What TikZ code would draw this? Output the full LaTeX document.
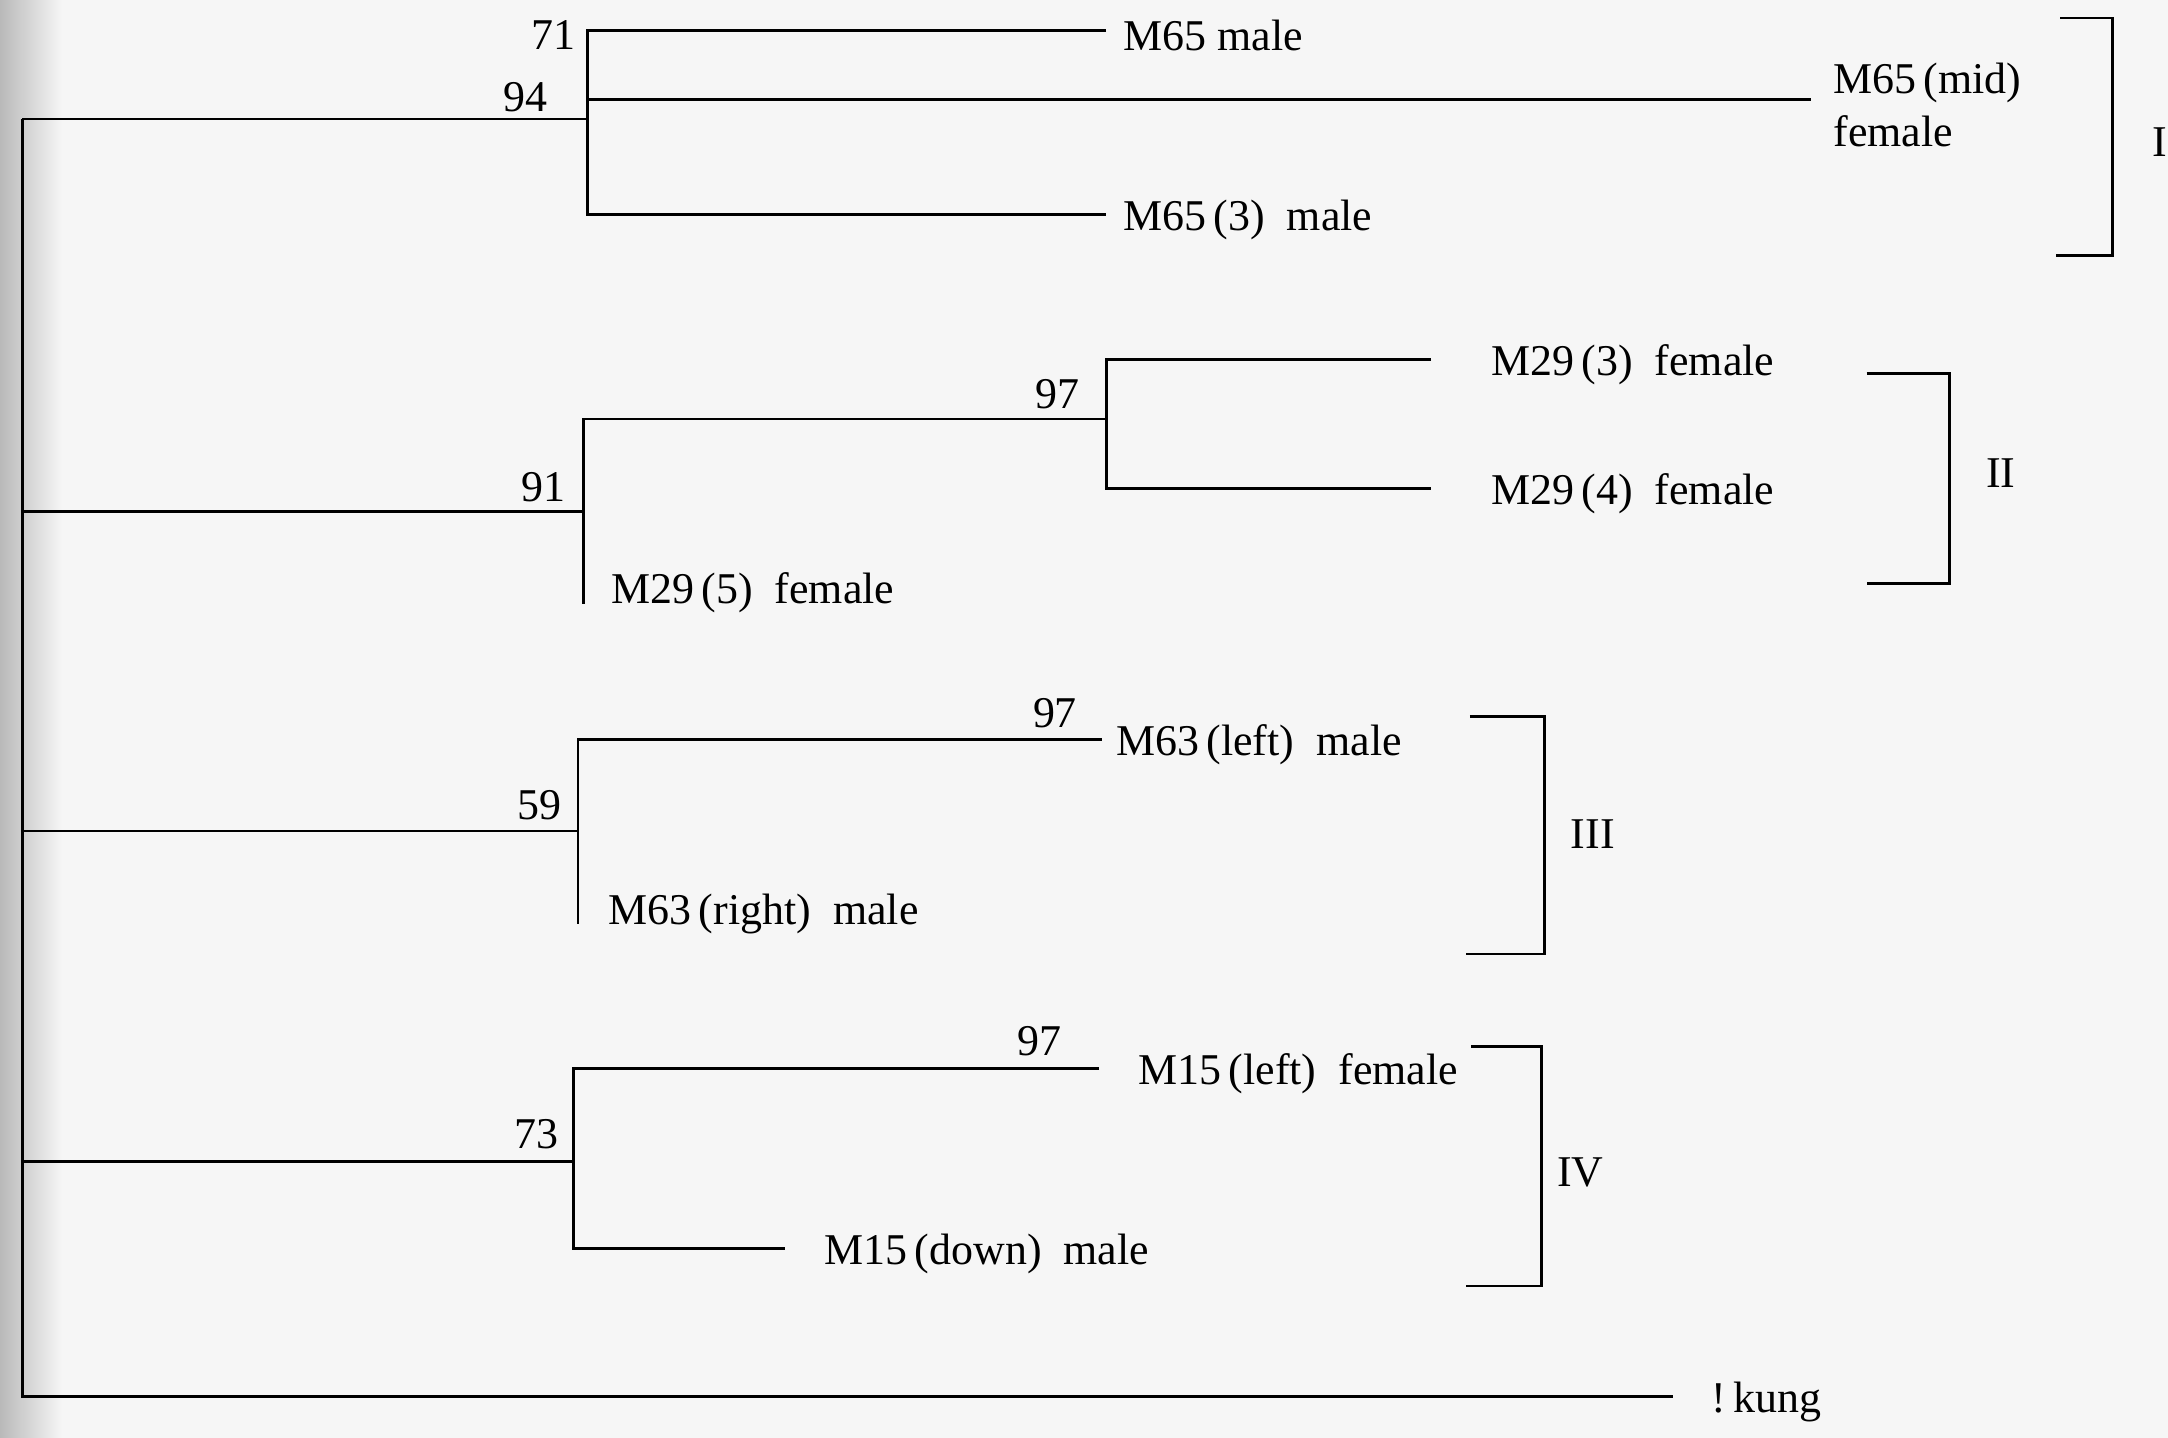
\documentclass[tikz,border=0pt]{standalone}
\usepackage{fontspec}
\setmainfont{Liberation Serif}
\usetikzlibrary{positioning}
\begin{document}
\begin{tikzpicture}[x=0.013827cm,y=-0.013827cm,
    leaf/.style={anchor=west,inner sep=3pt,yshift=-1.5pt,font=\fontsize{12.5}{15}\selectfont},
    boot/.style={inner sep=0pt,font=\fontsize{12.5}{15}\selectfont},
    branch/.style={line width=0.8pt}]
    % Фон страницы и тень у корешка, как на скане.
    \fill[gray!7] (0,0) rectangle (1568,1040);
    \shade[left color=gray!55,right color=gray!7] (0,0) rectangle (45,1040);
    \useasboundingbox (0,0) rectangle (1568,1040);

    \coordinate (rK) at (16,1010);
    \coordinate (jI) at (425,86);
    \coordinate (jII) at (422,370);
    \coordinate (jIIb) at (800,303);
    \coordinate (jIII) at (418,601);
    \coordinate (jIV) at (415,840);

    \coordinate (eM65) at (800,22);
    \coordinate (eMid) at (1310,72);
    \coordinate (eM65c) at (800,155);
    \coordinate (eM29c) at (1035,260);
    \coordinate (eM29d) at (1035,353);
    \coordinate (eM29e) at (422,437);
    \coordinate (eM63a) at (797,535);
    \coordinate (eM63b) at (418,668);
    \coordinate (eM15a) at (795,773);
    \coordinate (eM15b) at (568,903);
    \coordinate (eKung) at (1210,1010);

    \node[leaf, right=0.6mm of eM65] (m65) {M65 male};
    \node[leaf, right=1.1mm of eMid, align=left] (m65mid) {M65\,(mid)\\female};
    \node[leaf, right=0.6mm of eM65c] (m65c) {M65\,(3)\enspace male};
    \node[leaf, right=4.9mm of eM29c] (m29c) {M29\,(3)\enspace female};
    \node[leaf, right=4.9mm of eM29d] (m29d) {M29\,(4)\enspace female};
    \node[leaf] (m29e) at (434,425) {M29\,(5)\enspace female};
    \node[leaf, right=0.3mm of eM63a] (m63a) {M63\,(left)\enspace male};
    \node[leaf] (m63b) at (432,657) {M63\,(right)\enspace male};
    \node[leaf, right=2.8mm of eM15a] (m15a) {M15\,(left)\enspace female};
    \node[leaf, right=2.8mm of eM15b] (m15b) {M15\,(down)\enspace male};
    \node[leaf, right=2.7mm of eKung] (kung) {!\,kung};

    \node[boot] (b71) at (400,25) {71};
    \node[boot] (b94) at (380,70) {94};
    \node[boot] (b91) at (393,352) {91};
    \node[boot] (b97a) at (765,285) {97};
    \node[boot] (b97b) at (763,516) {97};
    \node[boot] (b59) at (390,582) {59};
    \node[boot] (b97c) at (752,753) {97};
    \node[boot] (b73) at (388,820) {73};

    % дерево
    \draw[branch] (jI -| rK) -- (rK) -- (eKung);
    \foreach \j in {jI,jII,jIII,jIV} {
        \draw[branch] (\j -| rK) -- (\j);
    }
    \draw[branch] (eM65) -| (jI) |- (eM65c);
    \draw[branch] (jI |- eMid) -- (eMid);
    \draw[branch] (jIIb) -| (jII) -- (eM29e);
    \draw[branch] (eM29c) -| (jIIb) |- (eM29d);
    \draw[branch] (eM63a) -| (jIII) -- (eM63b);
    \draw[branch] (eM15a) -| (jIV) |- (eM15b);

    % группы
    \draw[branch] (1490,13) -| (1528,185) -- (1487,185);
    \draw[branch] (1350,270) -| (1410,422) -- (1350,422);
    \draw[branch] (1063,518) -| (1117,690) -- (1060,690);
    \draw[branch] (1064,757) -| (1115,930) -- (1060,930);
    \node[boot] (gI) at (1562,103) {I};
    \node[boot] (gII) at (1447,342) {II};
    \node[boot] (gIII) at (1152,603) {III};
    \node[boot] (gIV) at (1143,848) {IV};
\end{tikzpicture}
\end{document}
